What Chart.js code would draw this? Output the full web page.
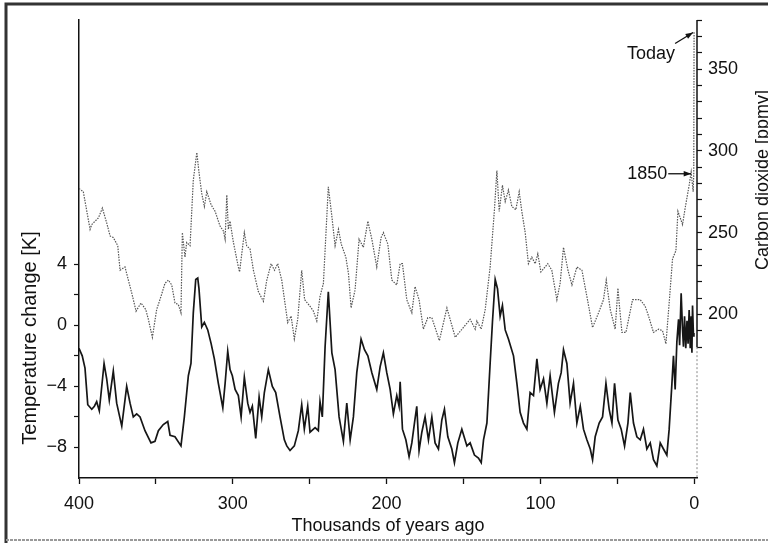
<!DOCTYPE html>
<html>
<head>
<meta charset="utf-8">
<title>Vostok: temperature and CO2</title>
<script src="https://cdn.jsdelivr.net/npm/chart.js@4.4.1/dist/chart.umd.min.js"></script>
<style>
  html, body { margin: 0; padding: 0; background: #fff; }
  #wrap { width: 768px; height: 543px; }
</style>
</head>
<body>
<div id="wrap"><canvas id="vostok" width="768" height="543"></canvas></div>
<script>
// =========================
// data
// =========================
// temperature change [K] vs thousands of years ago
const tempAge = [400, 397.9, 396.1, 394.3, 391.7, 390, 388.5, 386.8, 383.7, 382, 380.3, 377.7, 375.5, 372.2, 369, 366.8, 364.7, 362.5, 360.3, 357.1,
  353.2, 350.6, 348.4, 345.2, 342.3, 340.8, 337.6, 333.7, 331.5, 328.9, 327.2, 325.7, 324.1, 322.8, 322, 320.2, 318.5, 316.3, 314.1, 312,
  309.4, 306.5, 305, 303.3, 301.8, 300.3, 298.5, 296.4, 294.6, 292.5, 290.3, 288.8, 287.3, 285.1, 282.9, 281.2, 279.5, 276.9, 274.3, 272.1,
  269.3, 266.5, 264.9, 262.8, 260, 257.4, 255.2, 253.5, 251.3, 249.8, 246.5, 244.4, 243.3, 241.8, 240, 237.9, 235.6, 233.5, 230.9, 228.1,
  225.9, 223.7, 221.6, 219.4, 216.6, 214.4, 212.2, 209.6, 206.4, 204.2, 202.1, 199.9, 197.7, 195.6, 193.4, 191.9, 191.2, 189.7, 187.5, 185.4,
  183.6, 181.9, 180.4, 178.9, 177.1, 175, 172.8, 170.6, 168.5, 166.3, 164.1, 162.4, 160.2, 157.6, 155.9, 153.7, 151.1, 147.8, 145.7, 142.9,
  140.3, 138.5, 137, 134.8, 132.7, 131.2, 129.4, 127.9, 126.2, 124.7, 122.9, 120.8, 117.5, 115.3, 113.2, 111, 108.8, 106.7, 104.5, 102.3,
  100.2, 98, 95.8, 93.7, 90.9, 88.3, 86.5, 85, 82.8, 80.7, 78.5, 76.3, 74.1, 72, 69.8, 67.6, 66.1, 64.4, 61.8, 59.6,
  57.4, 55.3, 53.5, 51.8, 49.6, 47.5, 45.3, 43.1, 41.6, 39.5, 37.3, 35.1, 33, 30.8, 28.6, 26.5, 24.3, 22.1, 20, 17.8,
  16.3, 14.5, 13.5, 12.4, 11.3, 10.2, 9.5, 8.5, 7.6, 7.0, 6.3, 5.5, 4.7, 4.0, 3.3, 2.6, 2.0, 1.5, 1.1, 0.5, 0.2];
const tempK = [-1.5, -2.0, -2.8, -5.2, -5.5, -5.3, -5.0, -5.6, -2.5, -3.5, -4.9, -3.0, -5.1, -6.6, -4.0, -5.1, -6.0, -5.8, -6.0, -6.9,
  -7.7, -7.6, -6.9, -6.5, -6.3, -7.2, -7.3, -7.9, -6.0, -3.3, -2.5, 0.8, 3.0, 3.1, 2.4, -0.1, 0.2, -0.3, -1.2, -2.2,
  -3.8, -5.4, -3.8, -1.7, -2.9, -3.3, -4.2, -4.6, -6.0, -3.4, -5.1, -5.7, -5.3, -7.4, -4.7, -6.0, -4.4, -2.9, -4.0, -4.4,
  -6.0, -7.5, -7.9, -8.2, -7.9, -6.9, -5.2, -6.8, -5.3, -7.0, -6.7, -6.9, -5.0, -6.0, -1.4, 2.2, -1.8, -2.9, -6.0, -7.6,
  -5.1, -7.5, -6.0, -3.1, -0.9, -1.6, -2.0, -3.1, -4.2, -2.7, -1.8, -3.1, -4.2, -5.8, -4.6, -5.3, -3.7, -6.8, -7.5, -8.6,
  -7.7, -6.4, -5.3, -8.2, -7.0, -6.0, -7.5, -6.0, -7.7, -8.1, -6.2, -5.5, -7.3, -8.1, -9.0, -7.7, -6.8, -7.9, -7.7, -8.5,
  -8.7, -9.0, -7.5, -6.4, -2.5, 0.2, 3.0, 2.4, 0.6, 1.3, -0.3, -0.9, -2.0, -3.8, -5.7, -6.4, -6.8, -4.4, -4.6, -2.2,
  -4.2, -3.5, -5.1, -3.3, -5.7, -3.8, -3.1, -1.6, -2.5, -5.1, -3.8, -6.4, -5.3, -6.8, -7.5, -8.1, -8.8, -7.3, -6.4, -6.0,
  -3.8, -5.5, -6.4, -3.8, -6.2, -6.8, -7.9, -6.4, -4.4, -6.4, -7.3, -7.5, -6.8, -8.1, -7.7, -8.8, -9.2, -7.7, -8.1, -8.5,
  -6.8, -3.8, -2.0, -4.2, -1.1, 0.4, -1.3, 2.1, -0.3, -1.4, 0.6, -1.5, 0.3, -1.2, 1.0, -1.5, 0.6, -1.8, 1.3, -0.7, -0.5];

// carbon dioxide [ppmv] vs thousands of years ago
const co2Age = [400, 397.2, 392.8, 391.7, 387.4, 384.8, 382, 379.8, 377.7, 374.8, 373.3, 370.1, 367.9, 365.7, 362.9, 359.7, 356.6, 354.9, 352.3, 349.5,
  346.7, 344.1, 341.9, 339.7, 337.6, 335.4, 333.7, 332.8, 331.1, 330, 327.8, 325.7, 323.4, 322, 320.2, 318.5, 316.9, 314.1, 311.5, 308.3,
  306.1, 305, 303.9, 302.9, 301.8, 299.6, 296.4, 295.6, 292.5, 291, 288.8, 286.6, 283.4, 280.1, 277.9, 275.1, 272.9, 270.8, 268.2, 264.3,
  262.1, 260, 257.8, 255.2, 253.3, 249.8, 247.6, 245.4, 243.3, 241.1, 237.9, 235.6, 233.5, 231.3, 229.5, 226.5, 224.8, 223.1, 220.5, 217.9,
  215.1, 212.2, 209.6, 206.4, 203.6, 202.1, 199.2, 196.6, 193.4, 191.2, 189.7, 186.9, 183.6, 181.5, 178.9, 176.1, 173.2, 170.6, 165.7, 160.8,
  155.4, 145.7, 142.4, 141.3, 138.5, 135.9, 132.7, 129.9, 128.3, 126.8, 124.7, 122.9, 120.8, 118.6, 116, 113.8, 112.1, 109.9, 107.8, 105.6,
  103.4, 101.7, 99.7, 95.2, 92.6, 89.3, 87.2, 85, 82.1, 79.5, 76.3, 73, 69.8, 66.1, 62.2, 59, 57.2, 54.6, 51.4, 49.6,
  48.8, 47, 44.4, 40.1, 35.1, 31.9, 29.7, 26.5, 23.2, 20.6, 18.4, 16.3, 14.1, 11.9, 10.6, 7.6, 5.9, 3.3, 2, 0.7,
  0.3, 0.1];
const co2Ppm = [277, 275, 252, 255, 259, 265, 256, 248, 247, 242, 227, 229, 221, 213, 202, 207, 203, 197, 186, 203,
  211, 219, 221, 218, 207, 206, 201, 250, 235, 244, 242, 282, 299, 287, 274, 266, 275, 267, 263, 254,
  251, 246, 273, 252, 257, 244, 229, 226, 250, 242, 240, 227, 214, 208, 221, 231, 227, 231, 221, 195,
  199, 185, 197, 227, 209, 205, 202, 196, 211, 219, 278, 260, 242, 252, 243, 235, 225, 204, 215, 246,
  241, 257, 246, 229, 247, 250, 243, 221, 218, 231, 231, 209, 201, 217, 209, 191, 198, 198, 184, 204,
  186, 197, 191, 196, 191, 203, 229, 264, 288, 263, 279, 269, 276, 266, 264, 275, 263, 250, 231, 235,
  231, 237, 226, 231, 227, 209, 219, 241, 227, 218, 229, 227, 211, 192, 201, 209, 221, 203, 191, 216,
  207, 189, 189, 209, 209, 205, 199, 189, 191, 190, 182, 207, 234, 239, 263, 255, 265, 279, 287, 275,
  286, 373];

// tick values
const xTicks = [400, 350, 300, 250, 200, 150, 100, 50, 0];
const tempTicks = [-8, -6, -4, -2, 0, 2, 4];
const co2Ticks = [180, 190, 200, 210, 220, 230, 240, 250, 260, 270, 280, 290, 300, 310, 320, 330, 340, 350, 360, 370, 380];

// labelled points: [age, ppmv]
const todayPoint = [0.1, 373];
const point1850 = [1.3, 286];

// =========================
// chart
// =========================
const FONT = "'Liberation Sans', Arial, Helvetica, sans-serif";
Chart.defaults.font.family = FONT;
Chart.defaults.color = '#111';

const toPoints = (xs, ys) => xs.map((a, i) => ({ x: a, y: ys[i] }));
const minus = v => (v < 0 ? '\u2212' + Math.abs(v) : String(v));

function arrow(ctx, x0, y0, x1, y1) {
  const ang = Math.atan2(y1 - y0, x1 - x0);
  ctx.beginPath();
  ctx.moveTo(x0, y0);
  ctx.lineTo(x1, y1);
  ctx.stroke();
  ctx.beginPath();
  ctx.moveTo(x1, y1);
  ctx.lineTo(x1 - 8 * Math.cos(ang - 0.35), y1 - 8 * Math.sin(ang - 0.35));
  ctx.lineTo(x1 - 8 * Math.cos(ang + 0.35), y1 - 8 * Math.sin(ang + 0.35));
  ctx.closePath();
  ctx.fill();
}

// axis titles, right axis line, notes and the scan frame
const decor = {
  id: 'decor',
  afterDraw(chart) {
    const { ctx, chartArea: a, scales: { x, y2 } } = chart;
    ctx.save();

    // right axis: solid along the ticks, faint dotted below
    const yCut = y2.getPixelForValue(co2Ticks[0]);
    ctx.strokeStyle = '#111';
    ctx.lineWidth = 1.5;
    ctx.beginPath();
    ctx.moveTo(a.right, a.top);
    ctx.lineTo(a.right, yCut);
    ctx.stroke();
    ctx.strokeStyle = '#888';
    ctx.lineWidth = 1;
    ctx.setLineDash([2, 2]);
    ctx.beginPath();
    ctx.moveTo(a.right, yCut);
    ctx.lineTo(a.right, a.bottom);
    ctx.stroke();
    ctx.setLineDash([]);

    // rotated axis titles
    ctx.fillStyle = '#111';
    ctx.textAlign = 'center';
    ctx.textBaseline = 'alphabetic';
    ctx.font = '20px ' + FONT;
    ctx.save();
    ctx.translate(36, 338);
    ctx.rotate(-Math.PI / 2);
    ctx.fillText('Temperature change [K]', 0, 0);
    ctx.restore();
    ctx.font = '18px ' + FONT;
    ctx.save();
    ctx.translate(768, 180);
    ctx.rotate(-Math.PI / 2);
    ctx.fillText('Carbon dioxide [ppmv]', 0, 0);
    ctx.restore();

    // Today / 1850
    ctx.strokeStyle = '#111';
    ctx.lineWidth = 1.3;
    const tx = x.getPixelForValue(todayPoint[0]);
    const ty = y2.getPixelForValue(todayPoint[1]);
    arrow(ctx, tx - 19, ty + 12, tx - 1, ty + 1);
    ctx.textAlign = 'right';
    ctx.fillText('Today', tx - 19, ty + 28);

    const px = x.getPixelForValue(point1850[0]);
    const py = y2.getPixelForValue(point1850[1]);
    arrow(ctx, px - 24, py, px - 1, py);
    ctx.textBaseline = 'middle';
    ctx.fillText('1850', px - 25, py);

    // frame of the scanned page
    ctx.strokeStyle = '#333';
    ctx.lineWidth = 3;
    ctx.beginPath();
    ctx.moveTo(6, 543);
    ctx.lineTo(6, 4);
    ctx.lineTo(768, 4);
    ctx.stroke();
    ctx.strokeStyle = '#999';
    ctx.lineWidth = 2;
    ctx.setLineDash([3, 1]);
    ctx.beginPath();
    ctx.moveTo(6, 540);
    ctx.lineTo(768, 540);
    ctx.stroke();
    ctx.restore();
  }
};

const tickFont = { size: 18 };

new Chart(document.getElementById('vostok'), {
  type: 'line',
  data: {
    datasets: [
      {
        label: 'Carbon dioxide',
        data: toPoints(co2Age, co2Ppm),
        yAxisID: 'y2',
        borderColor: '#555',
        borderWidth: 1.2,
        borderDash: [1.5, 1.2],
        pointRadius: 0,
        tension: 0
      },
      {
        label: 'Temperature change',
        data: toPoints(tempAge, tempK),
        yAxisID: 'y',
        borderColor: '#161616',
        borderWidth: 1.7,
        pointRadius: 0,
        tension: 0
      }
    ]
  },
  options: {
    responsive: false,
    animation: false,
    devicePixelRatio: 1,
    layout: { padding: { top: 20, left: 0, right: 0, bottom: 0 } },
    plugins: {
      legend: { display: false },
      tooltip: { enabled: false }
    },
    scales: {
      x: {
        type: 'linear',
        reverse: true,
        min: -1.8,
        max: 400,
        afterBuildTicks: s => { s.ticks = xTicks.map(v => ({ value: v })); },
        afterFit: s => { s.height = 65; },
        ticks: {
          autoSkip: false,
          maxRotation: 0,
          padding: 9,
          font: tickFont,
          callback: v => (v % 100 === 0 ? String(v) : '')
        },
        grid: { drawOnChartArea: false, tickLength: 6, color: '#111', tickWidth: 1.3 },
        border: { color: '#111', width: 1.5 },
        title: {
          display: true,
          text: 'Thousands of years ago',
          font: { size: 18 },
          padding: { top: 0, bottom: 6 }
        }
      },
      y: {
        position: 'left',
        min: -10,
        max: 20,
        afterBuildTicks: s => { s.ticks = tempTicks.map(v => ({ value: v })); },
        afterFit: s => { s.width = 79; },
        ticks: {
          autoSkip: false,
          padding: 7,
          font: tickFont,
          callback: v => (v % 4 === 0 ? minus(v) : '')
        },
        grid: { drawOnChartArea: false, tickLength: 5, color: '#111', tickWidth: 1.2 },
        border: { color: '#111', width: 1.5 }
      },
      y2: {
        position: 'right',
        min: 100,
        max: 380,
        afterBuildTicks: s => { s.ticks = co2Ticks.map(v => ({ value: v })); },
        afterFit: s => { s.width = 71; },
        ticks: {
          autoSkip: false,
          padding: 6,
          font: tickFont,
          callback: v => (v % 50 === 0 ? String(v) : '')
        },
        grid: { drawOnChartArea: false, tickLength: 5, color: '#111', tickWidth: 1.2 },
        border: { display: false }
      }
    }
  },
  plugins: [decor]
});
</script>
</body>
</html>
